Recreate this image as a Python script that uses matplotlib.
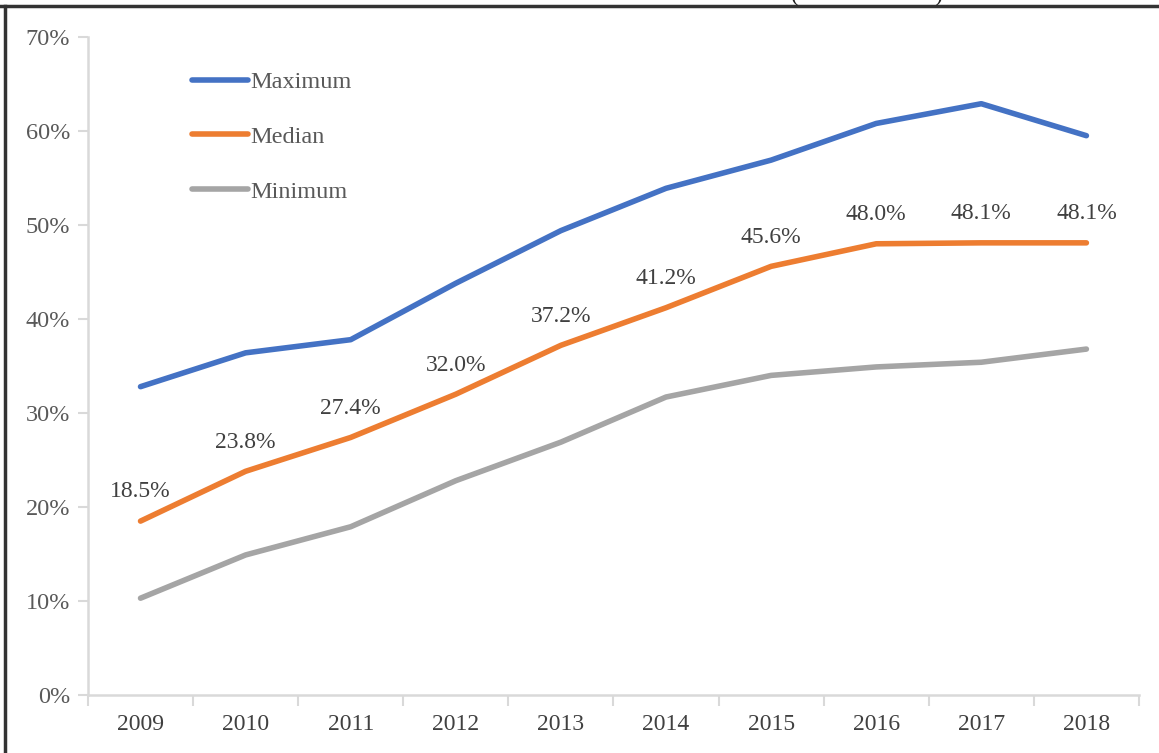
import matplotlib
matplotlib.use('Agg')
import matplotlib.pyplot as plt
from matplotlib.lines import Line2D
from matplotlib.ticker import FuncFormatter, FixedLocator

years = ['2009', '2010', '2011', '2012', '2013', '2014', '2015', '2016', '2017', '2018']
maximum = [32.8, 36.4, 37.8, 43.8, 49.4, 53.9, 56.9, 60.8, 62.9, 59.5]
median = [18.5, 23.8, 27.4, 32.0, 37.2, 41.2, 45.6, 48.0, 48.1, 48.1]
minimum = [10.3, 14.9, 17.9, 22.8, 26.9, 31.7, 34.0, 34.9, 35.4, 36.8]
median_labels = ['18.5%', '23.8%', '27.4%', '32.0%', '37.2%', '41.2%', '45.6%', '48.0%', '48.1%', '48.1%']

plt.rcParams['font.family'] = ['Liberation Serif', 'DejaVu Serif']

fig = plt.figure(figsize=(11.59, 7.53), dpi=100)
ax = fig.add_axes([0.0759, 0.0770, 0.9068, 0.8739])

x = list(range(len(years)))
ax.plot(x, maximum, color='#4472C4', lw=4.0, solid_capstyle='round', label='Maximum')
ax.plot(x, median, color='#ED7D31', lw=4.0, solid_capstyle='round', label='Median')
ax.plot(x, minimum, color='#A5A5A5', lw=4.0, solid_capstyle='round', label='Minimum')

for i in x:
	ax.annotate(median_labels[i], (i, median[i]), xytext=(0, 21), textcoords='offset points',
		ha='center', va='center', fontsize=17, color='#404040')

ax.set_xlim(-0.5, len(years) - 0.5)
ax.set_ylim(0, 70)
ax.yaxis.set_major_locator(FixedLocator([0, 10, 20, 30, 40, 50, 60, 70]))
ax.yaxis.set_major_formatter(FuncFormatter(lambda v, p: '%d%%' % v))
ax.set_xticks([i - 0.5 for i in range(len(years) + 1)])
ax.set_xticklabels([])
ax.set_xticks(x, minor=True)
ax.set_xticklabels(years, minor=True)
ax.tick_params(axis='x', which='major', length=8, width=1.5, color='#D9D9D9', direction='out')
ax.tick_params(axis='x', which='minor', length=0, pad=14, labelsize=17, labelcolor='#404040')
ax.tick_params(axis='y', length=7, width=1.5, color='#D9D9D9', direction='out', pad=6,
	labelsize=17.5, labelcolor='#595959')

for s in ['top', 'right']:
	ax.spines[s].set_visible(False)
for s in ['left', 'bottom']:
	ax.spines[s].set_color('#D9D9D9')
	ax.spines[s].set_linewidth(1.8)

leg = ax.legend(loc='upper left', bbox_to_anchor=(0.090, 0.963), frameon=False, fontsize=17.5,
	handlelength=2.3, handletextpad=0.1, labelspacing=1.35, borderaxespad=0)
for t in leg.get_texts():
	t.set_color('#595959')

# outer frame (top and left edges only)
fig.add_artist(Line2D([0, 1], [1 - 6 / 753, 1 - 6 / 753], transform=fig.transFigure,
	color='#333333', lw=2.5))
fig.add_artist(Line2D([5 / 1159, 5 / 1159], [0, 1 - 6 / 753], transform=fig.transFigure,
	color='#333333', lw=2.5))

# remnants of a cut-off title above the frame
fig.text(795 / 1159, 1 - 1 / 753, '(', ha='center', va='baseline', fontsize=17, color='#222222')
fig.text(938 / 1159, 1 - 1 / 753, ')', ha='center', va='baseline', fontsize=17, color='#222222')

plt.savefig('out.png', dpi=100)
